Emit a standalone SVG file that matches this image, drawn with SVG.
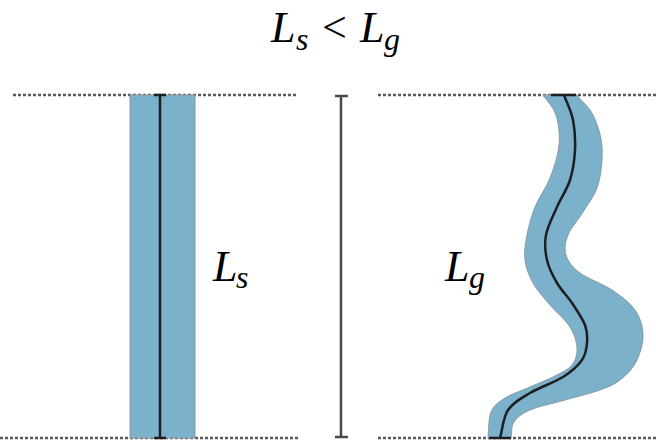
<svg xmlns="http://www.w3.org/2000/svg" width="656" height="442" viewBox="0 0 656 442">
<style>
.dot{stroke:#5a5a5a;stroke-width:2.5;stroke-dasharray:3 2;fill:none}
.band{fill:#7bb1cb;stroke:#8a9aa2;stroke-width:1}
.axis{stroke:#1e1e1e;stroke-width:2.5;fill:none}
.bar{stroke:#4a4a4a;stroke-width:2.5;fill:none}
.m{font-family:"Liberation Serif","DejaVu Serif",serif;font-style:italic;fill:#000}
</style>
<rect width="656" height="442" fill="#fff"/>
<g id="guides">
<line class="dot" x1="13" y1="95" x2="298" y2="95"/>
<line class="dot" x1="378" y1="95" x2="656" y2="95"/>
<line class="dot" x1="0" y1="438" x2="298" y2="438"/>
<line class="dot" x1="378" y1="438" x2="656" y2="438"/>
</g>
<g id="straight">
<rect class="band" x="130" y="95" width="65" height="343"/>
<line class="axis" x1="160" y1="95" x2="160" y2="438"/>
<line class="axis" x1="154" y1="95" x2="166" y2="95"/>
<line class="axis" x1="154" y1="438" x2="166" y2="438"/>
</g>
<g id="measure">
<line class="bar" x1="341" y1="95" x2="341" y2="438"/>
<line class="bar" x1="335" y1="96" x2="348" y2="96"/>
<line class="bar" x1="335" y1="437" x2="348" y2="437"/>
</g>
<g id="curved">
<path class="band" d="M543,95 L577,95 C582,102 588.8,106.3 593,115 C597.2,123.7 601.2,135.3 602,147 C602.8,158.7 601.2,174.2 598,185 C594.8,195.8 588,203.7 583,212 C578,220.3 570.8,227.8 568,235 C565.2,242.2 564,248.7 566,255 C568,261.3 572.3,267.2 580,273 C587.7,278.8 602.8,283.8 612,290 C621.2,296.2 629.8,302.5 635,310 C640.2,317.5 642.8,326.3 643,335 C643.2,343.7 639.8,354.5 636,362 C632.2,369.5 626,375.3 620,380 C614,384.7 609.2,386.7 600,390 C590.8,393.3 576.7,396.7 565,400 C553.3,403.3 538.5,406.3 530,410 C521.5,413.7 517.2,417.3 514,422 C510.8,426.7 512,432.7 511,438 L488,438 C489,429.3 488.2,418.7 491,412 C493.8,405.3 498.5,402.2 505,398 C511.5,393.8 521.7,390.7 530,387 C538.3,383.3 548,379.7 555,376 C562,372.3 568.3,369.7 572,365 C575.7,360.3 577.3,354.3 577,348 C576.7,341.7 574.5,334.2 570,327 C565.5,319.8 556.2,312.3 550,305 C543.8,297.7 537.2,290.5 533,283 C528.8,275.5 526,268 525,260 C524,252 525.3,243.8 527,235 C528.7,226.2 531.2,216.5 535,207 C538.8,197.5 546,188.3 550,178 C554,167.7 558,155.5 559,145 C560,134.5 558.7,123.3 556,115 C553.3,106.7 547.3,101.7 543,95 Z"/>
<path class="axis" d="M564,95 C567,103.3 571.2,110.8 573,120 C574.8,129.2 575.5,140 575,150 C574.5,160 573,170.5 570,180 C567,189.5 561,197.8 557,207 C553,216.2 547.7,226.2 546,235 C544.3,243.8 545.2,252 547,260 C548.8,268 552.8,275.8 557,283 C561.2,290.2 567.3,296 572,303 C576.7,310 582.5,318.3 585,325 C587.5,331.7 587.5,337.2 587,343 C586.5,348.8 586,354.3 582,360 C578,365.7 571.7,371.5 563,377 C554.3,382.5 539.2,387.5 530,393 C520.8,398.5 513,402.5 508,410 C503,417.5 502.7,428.7 500,438"/>
<line class="axis" x1="551" y1="95" x2="576" y2="95"/>
<line class="axis" x1="489" y1="438" x2="511" y2="438"/>
</g>
<g id="labels">
<text class="m" font-size="44" y="42"><tspan x="271">L</tspan><tspan x="296" y="50" font-size="32">s</tspan><tspan x="322" y="42" font-style="normal">&lt;</tspan><tspan x="360">L</tspan><tspan x="384" y="50" font-size="32">g</tspan></text>
<text class="m" font-size="44" y="281"><tspan x="213">L</tspan><tspan x="236" y="288" font-size="32">s</tspan></text>
<text class="m" font-size="44" y="281"><tspan x="445">L</tspan><tspan x="469" y="288" font-size="32">g</tspan></text>
</g>
</svg>
